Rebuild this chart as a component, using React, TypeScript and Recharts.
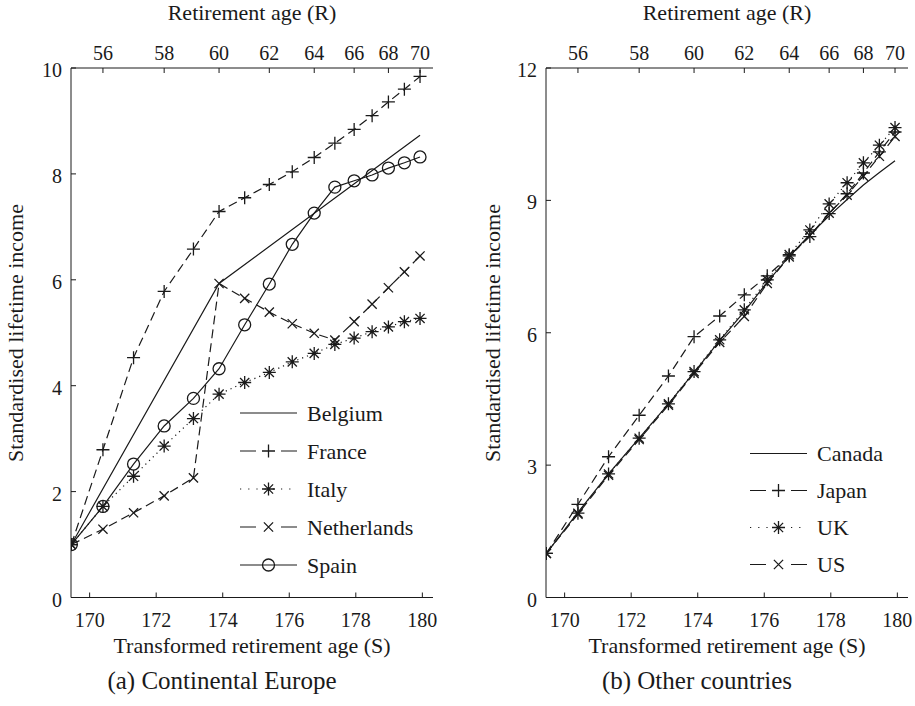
import { LineChart, Line, XAxis, YAxis, Legend } from "recharts";

// retirement ages and their transformed values (S)
const RETIREMENT_AGES = [55, 56, 57, 58, 59, 60, 61, 62, 63, 64, 65, 66, 67, 68, 69, 70];
const TRANSFORMED_AGES = [
  169.45, 170.4, 171.32, 172.24, 173.12, 173.89, 174.66, 175.4, 176.09, 176.75, 177.37, 177.95,
  178.49, 178.98, 179.46, 179.93,
];
const BOTTOM_TICKS = [170, 172, 174, 176, 178, 180];
const TOP_TICK_AGES = [56, 58, 60, 62, 64, 66, 68, 70];
const EUROPE_Y_TICKS = [0, 2, 4, 6, 8, 10];
const OTHER_Y_TICKS = [0, 3, 6, 9, 12];
const X_DOMAIN = [169.44, 180.32];

// (a) Continental Europe
const belgium = [1.0, null, null, null, null, 5.93, null, null, null, null, null, null, null, null, null, 8.73];
const france = [1.0, 2.79, 4.53, 5.78, 6.58, 7.29, 7.55, 7.8, 8.04, 8.31, 8.58, 8.84, 9.1, 9.36, 9.6, 9.84];
const italy = [1.0, 1.72, 2.29, 2.86, 3.38, 3.84, 4.06, 4.25, 4.45, 4.61, 4.78, 4.9, 5.02, 5.11, 5.21, 5.27];
const netherlands = [1.0, 1.29, 1.6, 1.92, 2.26, 5.93, 5.65, 5.39, 5.17, 4.99, 4.86, 5.21, 5.54, 5.85, 6.15, 6.45];
const spain = [1.0, 1.72, 2.52, 3.24, 3.76, 4.32, 5.15, 5.92, 6.67, 7.26, 7.75, 7.87, 7.98, 8.11, 8.21, 8.32];

// (b) Other countries
const canada = [1.0, 1.93, 2.8, 3.61, 4.39, 5.1, 5.82, 6.48, 7.15, 7.73, 8.22, 8.65, 9.02, 9.35, 9.63, 9.9];
const japan = [1.0, 2.11, 3.19, 4.13, 5.02, 5.91, 6.38, 6.86, 7.29, 7.74, 8.18, 8.7, 9.15, 9.62, 10.1, 10.55];
const uk = [1.0, 1.91, 2.8, 3.61, 4.39, 5.12, 5.84, 6.52, 7.2, 7.77, 8.33, 8.92, 9.4, 9.85, 10.25, 10.65];
const us = [1.0, 1.89, 2.77, 3.58, 4.36, 5.08, 5.78, 6.37, 7.12, 7.72, 8.2, 8.71, 9.12, 9.55, 10.0, 10.45];

type Shape = "plus" | "star" | "x" | "circle";
type Series = { name: string; values: (number | null)[]; dash?: string; marker?: Shape };

const DASH = "9 5";
const DOT = "1.2 4";

const EUROPE: Series[] = [
  { name: "Belgium", values: belgium },
  { name: "France", values: france, dash: DASH, marker: "plus" },
  { name: "Italy", values: italy, dash: DOT, marker: "star" },
  { name: "Netherlands", values: netherlands, dash: DASH, marker: "x" },
  { name: "Spain", values: spain, marker: "circle" },
];

const OTHERS: Series[] = [
  { name: "Canada", values: canada },
  { name: "Japan", values: japan, dash: DASH, marker: "plus" },
  { name: "UK", values: uk, dash: DOT, marker: "star" },
  { name: "US", values: us, dash: DASH, marker: "x" },
];

const INK = "#1a1a1a";
const FONT = "'Liberation Serif', 'DejaVu Serif', 'Times New Roman', Times, serif";
const TICK_FONT = 20;

function Marker({ cx, cy, shape }: { cx?: number; cy?: number; shape: Shape }) {
  if (cx == null || cy == null || isNaN(cx) || isNaN(cy)) return null;
  const p = 6.5;
  const d = 4.6;
  const plus = `M${cx - p},${cy}H${cx + p}M${cx},${cy - p}V${cy + p}`;
  const cross = `M${cx - d},${cy - d}L${cx + d},${cy + d}M${cx - d},${cy + d}L${cx + d},${cy - d}`;
  if (shape === "circle") return <circle cx={cx} cy={cy} r={6} fill="none" stroke={INK} strokeWidth={1.3} />;
  const path = shape === "plus" ? plus : shape === "x" ? cross : plus + cross;
  return <path d={path} fill="none" stroke={INK} strokeWidth={1.3} />;
}

function BottomTick({ x, y, payload }: any) {
  return (
    <g>
      <line x1={x} y1={y} x2={x} y2={y - 5} stroke={INK} />
      <text x={x} y={y + 29.5} textAnchor="middle" fontSize={TICK_FONT} fontFamily={FONT} fill={INK}>
        {payload.value}
      </text>
    </g>
  );
}

function TopTick({ x, y, payload }: any) {
  const i = TRANSFORMED_AGES.indexOf(payload.value);
  return (
    <g>
      <line x1={x} y1={y} x2={x} y2={y + 5} stroke={INK} />
      <text x={x} y={y - 8} textAnchor="middle" fontSize={TICK_FONT} fontFamily={FONT} fill={INK}>
        {RETIREMENT_AGES[i]}
      </text>
    </g>
  );
}

function LeftTick({ x, y, payload }: any) {
  return (
    <g>
      <line x1={x} y1={y} x2={x + 5} y2={y} stroke={INK} />
      <text x={x - 9} y={y + 9} textAnchor="end" fontSize={TICK_FONT} fontFamily={FONT} fill={INK}>
        {payload.value}
      </text>
    </g>
  );
}

function LegendBox({ series, rowGap }: { series: Series[]; rowGap: number }) {
  return (
    <svg width={220} height={series.length * rowGap} style={{ display: "block" }}>
      {series.map((se, i) => {
        const cy = rowGap / 2 + i * rowGap;
        const dash = se.dash === DASH ? "16 25" : se.dash === DOT ? "1.2 7" : undefined;
        return (
          <g key={se.name}>
            <line x1={2} x2={59} y1={cy} y2={cy} stroke={INK} strokeWidth={1.2} strokeDasharray={dash} />
            {se.marker && <Marker cx={30.5} cy={cy} shape={se.marker} />}
            <text x={69} y={cy + 7.5} fontSize={22} fontFamily={FONT} fill={INK}>
              {se.name}
            </text>
          </g>
        );
      })}
    </svg>
  );
}

const PLOT_W = 362;

function Panel({
  series,
  yTicks,
  width,
  plotLeft,
  legendLeft,
  legendTop,
  rowGap,
}: {
  series: Series[];
  yTicks: number[];
  width: number;
  plotLeft: number;
  legendLeft: number;
  legendTop: number;
  rowGap: number;
}) {
  const data = TRANSFORMED_AGES.map((s, i) => {
    const row: Record<string, number | null> = { s };
    series.forEach((se) => (row[se.name] = se.values[i]));
    return row;
  });
  const topTicks = TOP_TICK_AGES.map((r) => TRANSFORMED_AGES[RETIREMENT_AGES.indexOf(r)]);
  const yMax = yTicks[yTicks.length - 1];

  return (
    <LineChart
      width={width}
      height={706}
      data={data}
      margin={{ top: 38, right: width - plotLeft - PLOT_W, bottom: 78.5, left: plotLeft - 40 }}
    >
      <XAxis
        xAxisId="bottom"
        dataKey="s"
        type="number"
        domain={X_DOMAIN}
        allowDataOverflow
        ticks={BOTTOM_TICKS}
        interval={0}
        tick={<BottomTick />}
        tickSize={0}
        tickMargin={0}
        tickLine={false}
        axisLine={{ stroke: INK }}
        height={30}
      />
      <XAxis
        xAxisId="top"
        orientation="top"
        dataKey="s"
        type="number"
        domain={X_DOMAIN}
        allowDataOverflow
        ticks={topTicks}
        interval={0}
        tick={<TopTick />}
        tickSize={0}
        tickMargin={0}
        tickLine={false}
        axisLine={{ stroke: INK }}
        height={30}
      />
      <YAxis
        type="number"
        domain={[0, yMax]}
        allowDataOverflow
        ticks={yTicks}
        interval={0}
        tick={<LeftTick />}
        tickSize={0}
        tickMargin={0}
        tickLine={false}
        axisLine={{ stroke: INK }}
        width={40}
      />
      {series.map((se) => (
        <Line
          key={se.name}
          xAxisId="bottom"
          type="linear"
          dataKey={se.name}
          stroke={INK}
          strokeWidth={1.2}
          strokeDasharray={se.dash}
          connectNulls
          isAnimationActive={false}
          activeDot={false}
          dot={
            se.marker
              ? (p: any) => <Marker key={`${se.name}-${p.index}`} cx={p.cx} cy={p.cy} shape={se.marker as Shape} />
              : false
          }
        />
      ))}
      <Legend
        layout="vertical"
        align="center"
        verticalAlign="middle"
        wrapperStyle={{ position: "absolute", left: legendLeft, top: legendTop, width: 220 }}
        content={() => <LegendBox series={series} rowGap={rowGap} />}
      />
    </LineChart>
  );
}

export default function App() {
  return (
    <div
      style={{
        position: "relative",
        width: 915,
        height: 706,
        background: "#fff",
        fontFamily: FONT,
      }}
    >
      <style>{`body{margin:0}`}</style>
      <div style={{ position: "absolute", left: 0, top: 0 }}>
        <Panel series={EUROPE} yTicks={EUROPE_Y_TICKS} width={460} plotLeft={71} legendLeft={238} legendTop={394} rowGap={38} />
      </div>
      <div style={{ position: "absolute", left: 460, top: 0 }}>
        <Panel series={OTHERS} yTicks={OTHER_Y_TICKS} width={455} plotLeft={86} legendLeft={288} legendTop={435} rowGap={37} />
      </div>
      <svg width={915} height={706} style={{ position: "absolute", left: 0, top: 0, pointerEvents: "none" }}>
        <g fill={INK} fontFamily={FONT}>
          <text x={252} y={20} textAnchor="middle" fontSize={22}>Retirement age (R)</text>
          <text x={727} y={20} textAnchor="middle" fontSize={22}>Retirement age (R)</text>
          <text x={252} y={653} textAnchor="middle" fontSize={22}>Transformed retirement age (S)</text>
          <text x={727} y={653} textAnchor="middle" fontSize={22}>Transformed retirement age (S)</text>
          <text x={222} y={689} textAnchor="middle" fontSize={25}>(a) Continental Europe</text>
          <text x={697} y={689} textAnchor="middle" fontSize={25}>(b) Other countries</text>
          <text transform="translate(23,333) rotate(-90)" textAnchor="middle" fontSize={22}>Standardised lifetime income</text>
          <text transform="translate(500,333) rotate(-90)" textAnchor="middle" fontSize={22}>Standardised lifetime income</text>
        </g>
      </svg>
    </div>
  );
}
